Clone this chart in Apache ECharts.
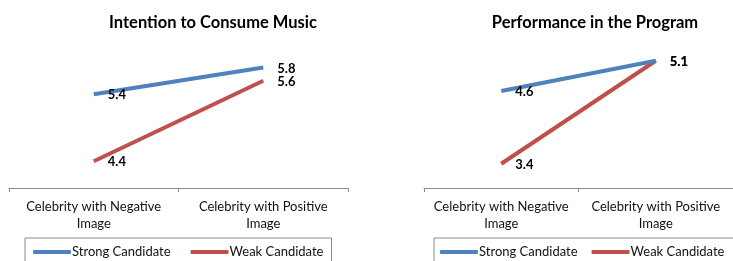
<!DOCTYPE html>
<html><head><meta charset="utf-8">
<script src="https://cdn.jsdelivr.net/npm/echarts@6/dist/echarts.min.js"></script>
<style>html,body{margin:0;padding:0;background:#fff}#c{width:733px;height:261px}</style>
</head><body><div id="c"></div>
<script>
const categories = ['Celebrity with Negative\nImage', 'Celebrity with Positive\nImage'];
const titles = ['Intention to Consume Music', 'Performance in the Program'];
const seriesNames = ['Strong Candidate', 'Weak Candidate'];
const strongMusic = [5.4, 5.8];
const weakMusic = [4.4, 5.6];
const strongPerf = [4.6, 5.1];
const weakPerf = [3.4, 5.1];

const FONT = 'Lato';
const colors = ['#4F81BD', '#C0504D'];
const chart = echarts.init(document.getElementById('c'), null, {renderer: 'canvas'});

function xAx(gi) {
  return {
    type: 'category', gridIndex: gi, data: categories, boundaryGap: true,
    axisLine: {lineStyle: {color: '#8a8a8a', width: 1}},
    axisTick: {show: true, length: 4, lineStyle: {color: '#8a8a8a'}},
    axisLabel: {interval: 0, hideOverlap: false, color: '#111', fontFamily: FONT, fontSize: 13, lineHeight: 17, margin: 10}
  };
}
function yAx(gi, min, max) {
  return {type: 'value', gridIndex: gi, min: min, max: max, show: false, splitLine: {show: false}};
}
function ser(name, data, gi, ci) {
  return {
    name: name, type: 'line', xAxisIndex: gi, yAxisIndex: gi, data: data,
    symbol: 'circle', symbolSize: 0, showSymbol: true,
    lineStyle: {width: 4, color: colors[ci]}, itemStyle: {color: colors[ci]},
    label: {show: true, position: 'right', distance: 14, offset: [0, 1], color: '#000',
      fontFamily: FONT, fontWeight: 'bold', fontSize: 13, formatter: p => p.value.toFixed(1)},
    emphasis: {disabled: true}, animation: false, z: ci === 0 ? 3 : 2
  };
}
function legend(left, gap, padL, padR) {
  return {
    left: left, top: 238, width: 330, data: seriesNames, orient: 'horizontal',
    icon: 'roundRect', itemWidth: 38, itemHeight: 4, itemGap: gap,
    borderColor: '#8a8a8a', borderWidth: 1, borderRadius: 0, padding: [6, padR, 6, padL],
    textStyle: {fontFamily: FONT, fontSize: 13, color: '#111', lineHeight: 16, padding: [0, 0, 0, -4]},
    selectedMode: false
  };
}
chart.setOption({
  animation: false,
  title: [
    {text: titles[0], left: 208, top: 9, textAlign: 'center', textStyle: {fontFamily: FONT, fontWeight: 'bold', fontSize: 16.5, color: '#000'}},
    {text: titles[1], left: 590, top: 9, textAlign: 'center', textStyle: {fontFamily: FONT, fontWeight: 'bold', fontSize: 16.5, color: '#000'}}
  ],
  grid: [
    {left: 9, width: 339, top: 54, height: 134},
    {left: 424, width: 314, top: 36.5, height: 151.5}
  ],
  xAxis: [xAx(0), xAx(1)],
  yAxis: [yAx(0, 4, 6), yAx(1, 3, 5.5)],
  legend: [legend(25, 20, 8, 8), legend(434, 14, 6, 14)],
  series: [
    ser(seriesNames[0], strongMusic, 0, 0),
    ser(seriesNames[1], weakMusic, 0, 1),
    ser(seriesNames[0], strongPerf, 1, 0),
    ser(seriesNames[1], weakPerf, 1, 1)
  ]
});
</script></body></html>
